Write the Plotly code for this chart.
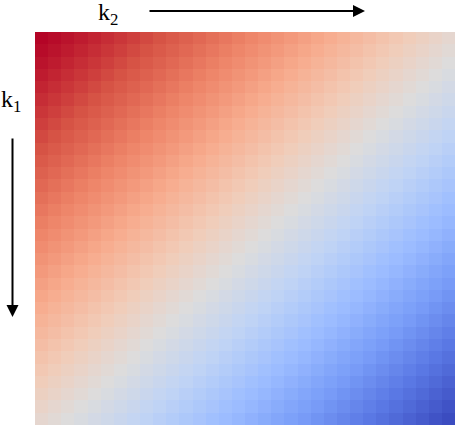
import plotly.graph_objects as go

# Grid indices
k1_index = list(range(32))
k2_index = list(range(32))

# Colour value for each anti-diagonal k1 + k2 = 0 .. 62 (1 = warm, 0 = cool)
diag_values = [
    1.000, 0.991, 0.981, 0.970, 0.959, 0.948, 0.936, 0.924, 0.911, 0.898,
    0.884, 0.870, 0.856, 0.841, 0.826, 0.811, 0.795, 0.780, 0.763, 0.747,
    0.730, 0.713, 0.696, 0.679, 0.662, 0.644, 0.626, 0.609, 0.591, 0.573,
    0.555, 0.536, 0.518, 0.500, 0.483, 0.466, 0.448, 0.431, 0.414, 0.397,
    0.379, 0.362, 0.345, 0.328, 0.310, 0.293, 0.276, 0.259, 0.241, 0.224,
    0.207, 0.190, 0.172, 0.155, 0.138, 0.121, 0.103, 0.086, 0.069, 0.052,
    0.035, 0.017, 0.000,
]

axis_labels = ["k<sub>1</sub>", "k<sub>2</sub>"]

z = [[diag_values[i + j] for j in k2_index] for i in k1_index]

coolwarm = [
    [0.0, "#3b4cc0"], [0.1, "#5977e3"], [0.2, "#7b9ff9"], [0.3, "#9ebeff"],
    [0.4, "#c0d4f5"], [0.5, "#dddcdc"], [0.6, "#f2cbb7"], [0.7, "#f7ac8e"],
    [0.8, "#ee8468"], [0.9, "#d65244"], [1.0, "#b40426"],
]

fig = go.Figure(go.Heatmap(
    z=z, x=k2_index, y=k1_index, colorscale=coolwarm,
    zmin=0, zmax=1, showscale=False, hoverinfo="skip",
))

W, H = 457, 425
L, R, T, B = 35, 2, 32, 0
pw, ph = W - L - R, H - T - B


def px(x):
    return (x - L) / pw


def py(y):
    return (H - B - y) / ph


font = dict(family="Liberation Serif, Times New Roman, serif", size=24, color="black")

annotations = [
    dict(text=axis_labels[1], x=px(108), y=py(14), xref="paper", yref="paper",
         showarrow=False, xanchor="center", yanchor="middle", font=font),
    dict(text=axis_labels[0], x=px(11), y=py(101), xref="paper", yref="paper",
         showarrow=False, xanchor="center", yanchor="middle", font=font),
    dict(text="", x=px(365), y=py(11), xref="paper", yref="paper",
         showarrow=True, ax=-217, ay=0, arrowhead=2, arrowsize=1.2,
         arrowwidth=2, arrowcolor="black", standoff=0),
    dict(text="", x=px(12.5), y=py(317), xref="paper", yref="paper",
         showarrow=True, ax=0, ay=-180, arrowhead=2, arrowsize=1.2,
         arrowwidth=2, arrowcolor="black", standoff=0),
]

fig.update_layout(
    width=W, height=H,
    margin=dict(l=L, r=R, t=T, b=B, pad=0),
    paper_bgcolor="white", plot_bgcolor="white",
    xaxis=dict(visible=False, range=[-0.5, 31.5]),
    yaxis=dict(visible=False, range=[31.5, -0.5]),
    annotations=annotations,
)

fig.write_html("out.html", config={"displayModeBar": False, "staticPlot": True})

with open("out.html", "r", encoding="utf-8") as f:
    html = f.read()
html = html.replace("<head>", "<head><style>html,body{margin:0;padding:0;overflow:hidden;}</style>", 1)
with open("out.html", "w", encoding="utf-8") as f:
    f.write(html)
